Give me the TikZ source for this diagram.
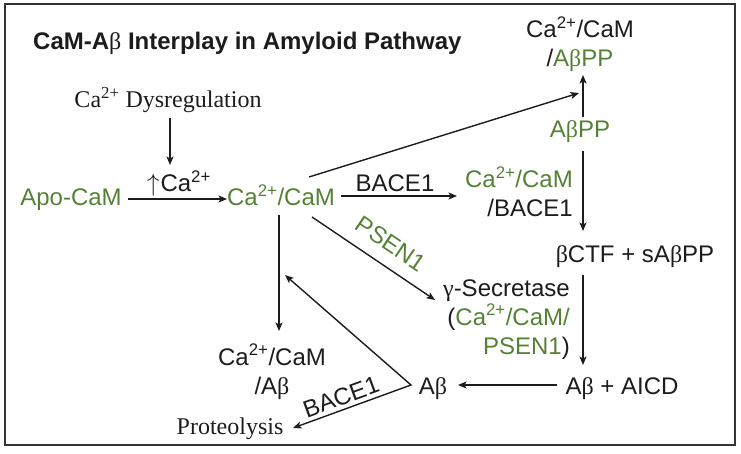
\documentclass[tikz,border=0pt]{standalone}
\usepackage{fontspec}
\setmainfont{Liberation Sans}
\newfontfamily\tms{Liberation Serif}
\usetikzlibrary{arrows.meta}
\definecolor{grn}{RGB}{84,130,53}
\definecolor{ink}{RGB}{28,28,28}
\newcommand\bet{{\tms\mdseries β}}
\newcommand\gam{{\tms\mdseries γ}}
\newcommand\caII{Ca\textsuperscript{2+}}
\begin{document}
\begin{tikzpicture}[x=1pt,y=-1pt,
  lbl/.style={font=\fontsize{24}{29}\selectfont, text=ink, inner sep=0pt},
  g/.style={lbl, text=grn},
  serif/.style={lbl, font=\tms\fontsize{24}{29}\selectfont},
  arr/.style={-{Stealth[length=8.5pt,width=7pt,inset=2pt]}, line width=1.4pt, draw=ink},
  biarr/.style={{Stealth[length=8.5pt,width=7pt,inset=2pt]}-{Stealth[length=8.5pt,width=7pt,inset=2pt]}, line width=1.4pt, draw=ink, line join=miter},
]
\useasboundingbox (0,0) rectangle (741,454);
\draw[line width=2pt, draw=ink!90] (5,4) rectangle (735,445);

% nodes
\node[lbl, font=\bfseries\fontsize{24}{29}\selectfont, anchor=base west] (title) at (33,50) {CaM-A\bet{} Interplay in Amyloid Pathway};
\node[serif, anchor=base] (dys) at (168,108) {\caII{} Dysregulation};
\node[lbl, anchor=base] (up) at (179,192) {$\uparrow$\kern1pt\caII};
\node[g, anchor=base] (apo) at (71,206) {Apo-CaM};
\node[g, anchor=base] (ca) at (281,206) {\caII/CaM};
\node[lbl, anchor=base] (bl) at (395,192) {BACE1};
\node[lbl, align=right, anchor=base east] (cab) at (573,217) {\textcolor{grn}{\caII/CaM}\\/BACE1};
\node[lbl, align=center, anchor=base] (cap) at (580,67) {\caII/CaM\\/\textcolor{grn}{A\bet PP}};
\node[g, anchor=base] (app) at (580,138) {A\bet PP};
\node[lbl, anchor=base] (ctf) at (635,262) {\bet CTF + sA\bet PP};
\node[lbl, align=right, anchor=base east] (gs) at (570,354) {\gam-Secretase\\(\textcolor{grn}{\caII/CaM/}\\\textcolor{grn}{PSEN1})};
\node[lbl, anchor=base] (aicd) at (622,394) {A\bet{} + AICD};
\node[lbl, anchor=base] (ab) at (433,394) {A\bet};
\node[lbl, align=center, anchor=base] (caab) at (272,394) {\caII/CaM\\/A\bet};
\node[serif, anchor=base] (prot) at (230,434) {Proteolysis};
\node[g, rotate=-34] (ps) at (391,244) {PSEN1};
\node[lbl, rotate=20] (b2) at (341,397) {BACE1};

% connector end points
\coordinate (dysS) at (170,118);
\coordinate (upN) at (170,165);
\coordinate (apoE) at (128,199);
\coordinate (caW) at (227,199);
\coordinate (caNE) at (309,177);
\coordinate (capS) at (579,93);
\coordinate (caE) at (341,196);
\coordinate (cabW) at (457,196);
\coordinate (caSE) at (312,217);
\coordinate (gsW) at (435,300);
\coordinate (caS) at (279,215);
\coordinate (caabN) at (279,331);
\coordinate (appN) at (583,117);
\coordinate (capB) at (583,75);
\coordinate (appS) at (583,151);
\coordinate (ctfN) at (583,231);
\coordinate (ctfS) at (583,275);
\coordinate (aicdN) at (583,365);
\coordinate (aicdW) at (557,385);
\coordinate (abE) at (458,385);
\coordinate (abW) at (411,385);
\coordinate (caRet) at (285,275);
\coordinate (protE) at (293,428);

% connectors
\draw[arr] (dysS) -- (upN);
\draw[arr] (apoE) -- (caW);
\draw[arr] (caNE) -- (capS);
\draw[arr] (caE) -- (cabW);
\draw[arr] (caSE) -- (gsW);
\draw[arr] (caS) -- (caabN);
\draw[arr] (appN) -- (capB);
\draw[arr] (appS) -- (ctfN);
\draw[arr] (ctfS) -- (aicdN);
\draw[arr] (aicdW) -- (abE);
\draw[biarr] (caRet) -- (abW) -- (protE);
\end{tikzpicture}
\end{document}
